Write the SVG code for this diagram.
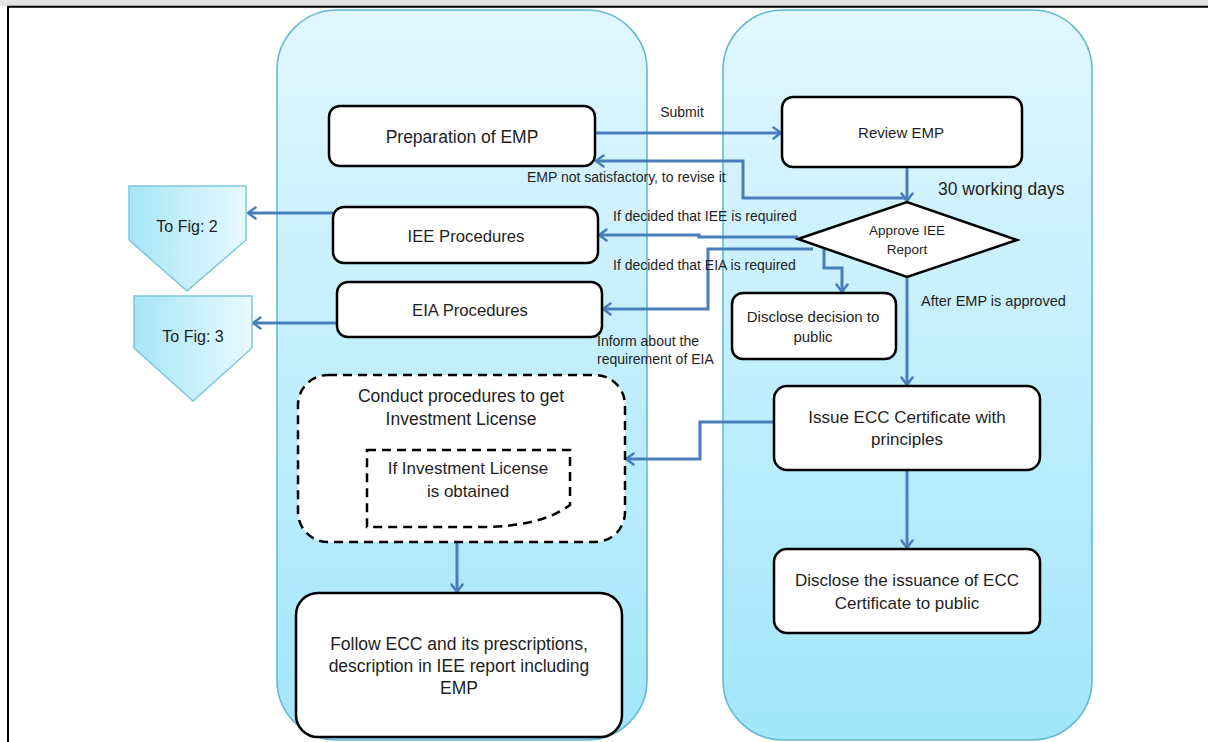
<svg xmlns="http://www.w3.org/2000/svg" width="1208" height="742" viewBox="0 0 1208 742">
<defs>
<linearGradient id="panelGrad" x1="0" y1="0" x2="0" y2="1">
<stop offset="0" stop-color="#e0f7fe"/>
<stop offset="1" stop-color="#a2e6fb"/>
</linearGradient>
<linearGradient id="tagGrad" x1="0" y1="0" x2="1" y2="0">
<stop offset="0" stop-color="#a6e6f8"/>
<stop offset="1" stop-color="#e8f9fe"/>
</linearGradient>
<marker id="arr" viewBox="0 0 10 14" refX="9" refY="7" markerWidth="10" markerHeight="14" markerUnits="userSpaceOnUse" orient="auto">
<path d="M1.5,1.5 L9,7 L1.5,12.5" fill="none" stroke="#4a7ebb" stroke-width="2.5" stroke-linecap="round" stroke-linejoin="round"/>
</marker>
<style>
.panel{fill:url(#panelGrad);stroke:#67b9d2;stroke-width:1.6}
.box{fill:#ffffff;stroke:#000000;stroke-width:2.5}
.dash{fill:#ffffff;stroke:#000000;stroke-width:2.5;stroke-dasharray:9 6}
.tag{fill:url(#tagGrad);stroke:#7cc6da;stroke-width:1.5}
.conn{fill:none;stroke:#4a7ebb;stroke-width:3}
.arrow{marker-end:url(#arr)}
text{font-family:"Liberation Sans",Arial,sans-serif;fill:#1e1e1e}
.t{text-anchor:middle;font-size:17px}
.s{font-size:14px}
</style>
</defs>
<rect x="0" y="0" width="1208" height="6" fill="#e4e4e4"/>
<line x1="7" y1="6.8" x2="1208" y2="6.8" stroke="#000" stroke-width="2"/>
<line x1="8" y1="6" x2="8" y2="742" stroke="#000" stroke-width="2"/>

<g id="panel-left"><rect class="panel" x="277" y="10" width="370" height="730" rx="60" ry="60"/></g>
<g id="panel-right"><rect class="panel" x="723" y="10" width="369" height="730" rx="60" ry="60"/></g>

<g id="connectors">
<line class="conn arrow" x1="595" y1="133" x2="781" y2="133"/>
<polyline class="conn arrow" points="907,198 743,198 743,161 596,161"/>
<line class="conn arrow" x1="907" y1="167" x2="907" y2="201"/>
<polyline class="conn arrow" points="798,237 699,237 699,235 599,235"/>
<polyline class="conn arrow" points="813,249 708,249 708,309 603,309"/>
<polyline class="conn arrow" points="824,249 824,268 842,268 842,292"/>
<line class="conn arrow" x1="907" y1="277" x2="907" y2="385"/>
<polyline class="conn arrow" points="774,422 700,422 700,459 626,459"/>
<line class="conn arrow" x1="907" y1="470" x2="907" y2="548"/>
<line class="conn arrow" x1="457" y1="542" x2="457" y2="592"/>
<line class="conn arrow" x1="333" y1="213" x2="248" y2="213"/>
<line class="conn arrow" x1="337" y1="323" x2="253" y2="323"/>
</g>

<g id="conn-labels">
<text class="s" x="682" y="117" text-anchor="middle">Submit</text>
<text class="s" x="527" y="182">EMP not satisfactory, to revise it</text>
<text class="s" x="613" y="221">If decided that IEE is required</text>
<text class="s" x="613" y="270">If decided that EIA is required</text>
<text class="s" x="597" y="346">Inform about the</text>
<text class="s" x="597" y="364">requirement of EIA</text>
<text x="938" y="195" style="font-size:17.5px">30 working days</text>
<text x="921" y="306" style="font-size:14.5px">After EMP is approved</text>
</g>

<g id="to-fig-2">
<polygon class="tag" points="129,186 246,186 246,240 187,291 129,240"/>
<text x="187" y="232" text-anchor="middle" style="font-size:16px">To Fig: 2</text>
</g>
<g id="to-fig-3">
<polygon class="tag" points="134,296 252,296 252,348 193,401 134,348"/>
<text x="193" y="342" text-anchor="middle" style="font-size:16px">To Fig: 3</text>
</g>

<g id="prep-emp">
<rect class="box" x="329" y="106" width="266" height="60" rx="11"/>
<text class="t" x="462" y="143" style="font-size:17.5px">Preparation of EMP</text>
</g>
<g id="iee-proc">
<rect class="box" x="333" y="207" width="265" height="56" rx="11"/>
<text class="t" x="466" y="242" style="font-size:16.7px">IEE Procedures</text>
</g>
<g id="eia-proc">
<rect class="box" x="337" y="282" width="265" height="55" rx="11"/>
<text class="t" x="470" y="316" style="font-size:16.7px">EIA Procedures</text>
</g>
<g id="review-emp">
<rect class="box" x="782" y="97" width="240" height="70" rx="11"/>
<text class="t" x="901" y="138" style="font-size:15px">Review EMP</text>
</g>
<g id="approve-iee">
<polygon class="box" points="798,239 907,202 1017,240 907,277"/>
<text class="t" x="907" y="235" style="font-size:13.5px">Approve IEE</text>
<text class="t" x="907" y="254" style="font-size:13.5px">Report</text>
</g>
<g id="disclose-decision">
<rect class="box" x="732" y="293" width="164" height="66" rx="11"/>
<text class="t" x="813" y="322" style="font-size:15px">Disclose decision to</text>
<text class="t" x="813" y="342" style="font-size:15px">public</text>
</g>
<g id="issue-ecc">
<rect class="box" x="774" y="386" width="266" height="84" rx="13"/>
<text class="t" x="907" y="423">Issue ECC Certificate with</text>
<text class="t" x="907" y="445">principles</text>
</g>
<g id="disclose-issuance">
<rect class="box" x="774" y="549" width="266" height="84" rx="13"/>
<text class="t" x="907" y="586">Disclose the issuance of ECC</text>
<text class="t" x="907" y="609">Certificate to public</text>
</g>
<g id="conduct-procedures">
<rect class="dash" x="298" y="375" width="327" height="167" rx="30"/>
<text class="t" x="461" y="402" style="font-size:17.5px">Conduct procedures to get</text>
<text class="t" x="461" y="425" style="font-size:17.5px">Investment License</text>
</g>
<g id="if-license">
<path class="dash" d="M367,450 L570,450 L570,505 C550,520 520,527 480,527 L367,527 Z"/>
<text class="t" x="468" y="474">If Investment License</text>
<text class="t" x="468" y="497">is obtained</text>
</g>
<g id="follow-ecc">
<rect class="box" x="296" y="593" width="326" height="144" rx="22"/>
<text class="t" x="459" y="650" style="font-size:17.5px">Follow ECC and its prescriptions,</text>
<text class="t" x="459" y="672" style="font-size:17.5px">description in IEE report including</text>
<text class="t" x="459" y="694" style="font-size:17.5px">EMP</text>
</g>
</svg>
